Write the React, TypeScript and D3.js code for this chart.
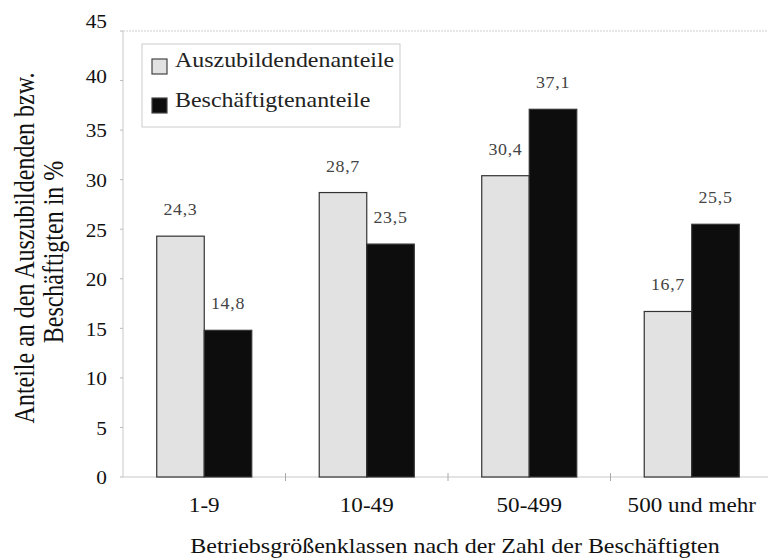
import React from "react";
import * as d3 from "d3";

const categories = ["1-9", "10-49", "50-499", "500 und mehr"];
const seriesNames = ["Auszubildendenanteile", "Beschäftigtenanteile"];
const azubi = [24.3, 28.7, 30.4, 16.7];
const besch = [14.8, 23.5, 37.1, 25.5];
const yTicks = [0, 5, 10, 15, 20, 25, 30, 35, 40, 45];

const W = 769;
const H = 559;
const FONT = "Liberation Serif, DejaVu Serif, serif";
const fills = ["#e2e2e2", "#0d0d0d"];
const tStyle = { fontFamily: FONT };

function T(props: { x: number; y: number; sx?: number; size: number; anchor?: string; fill?: string; ls?: number; dy?: string; children: any }) {
  const { x, y, sx = 1, size, anchor = "start", fill = "#111", ls = 0, dy, children } = props;
  return (
    <text transform={`translate(${x},${y}) scale(${sx},1)`} textAnchor={anchor} fontSize={size} fill={fill} letterSpacing={ls} dy={dy} style={tStyle}>
      {children}
    </text>
  );
}

export default function App() {
  const y = d3.scaleLinear().domain([0, 45]).range([477, 31]);
  const yLab = d3.scaleLinear().domain([0, 35, 45]).range([478, 131, 22]);
  const x = d3.scaleBand<string>().domain(categories).range([123, 773]).paddingInner(0).paddingOuter(0);
  const inner = d3.scaleBand<string>().domain(seriesNames).range([0, x.bandwidth()]).paddingInner(0).paddingOuter(0.71);
  const series = [azubi, besch];
  const fmt = (v: number) => v.toFixed(1).replace(".", ",");

  return (
    <svg width={W} height={H} style={{ position: "absolute", left: 0, top: 0, background: "#fff", fontFamily: FONT }}>
      <rect x={0} y={0} width={W} height={H} fill="#fff" />
      <line x1={123} x2={768} y1={y(45)} y2={y(45)} stroke="#cfcfcf" strokeDasharray="2,1" />
      <line x1={123} x2={123} y1={y(45)} y2={y(0)} stroke="#c8c8c8" />
      {yTicks.map((t) => (
        <g key={t}>
          <line x1={120} x2={123} y1={y(t)} y2={y(t)} stroke="#bbb" />
          <T x={107} y={yLab(t)} sx={1.12} size={19} anchor="end" dy="0.34em">{t}</T>
        </g>
      ))}
      <line x1={123} x2={768} y1={y(0)} y2={y(0)} stroke="#c8c8c8" />
      {categories.map((c, i) => (
        <g key={c}>
          {i > 0 && <line x1={x(c)!} x2={x(c)!} y1={y(0) - 4} y2={y(0) + 4} stroke="#aaa" />}
          <T x={x(c)! + x.bandwidth() / 2} y={512} sx={1.1} size={21} anchor="middle">{c}</T>
        </g>
      ))}
      {categories.map((c, i) =>
        series.map((s, k) => {
          const bx = x(c)! + inner(seriesNames[k])!;
          const bw = inner.bandwidth();
          return (
            <g key={c + k}>
              <rect x={bx} y={y(s[i])} width={bw} height={y(0) - y(s[i])} fill={fills[k]} stroke="#333" strokeWidth={1.2} />
              <T x={bx + bw / 2} y={y(s[i]) - 21} sx={1.12} size={16} anchor="middle" fill="#444" ls={0.6}>{fmt(s[i])}</T>
            </g>
          );
        })
      )}
      <rect x={142} y={44} width={258} height={83} fill="#fff" stroke="#ccc" strokeWidth={1} />
      {seriesNames.map((n, k) => (
        <g key={n}>
          <rect x={152} y={59 + k * 39} width={15} height={15} fill={fills[k]} stroke="#444" strokeWidth={1.2} />
          <T x={175} y={67 + k * 40} sx={1.14} size={21} fill="#222">{n}</T>
        </g>
      ))}
      <T x={455} y={553} sx={1.2} size={20} anchor="middle">Betriebsgrößenklassen nach der Zahl der Beschäftigten</T>
      <text transform="translate(34,248) rotate(-90) scale(1,1.2)" textAnchor="middle" fontSize={24} fill="#111" style={tStyle}>
        Anteile an den Auszubildenden bzw.
      </text>
      <text transform="translate(63,252) rotate(-90) scale(1,1.2)" textAnchor="middle" fontSize={24} fill="#111" style={tStyle}>
        Beschäftigten in %
      </text>
    </svg>
  );
}
